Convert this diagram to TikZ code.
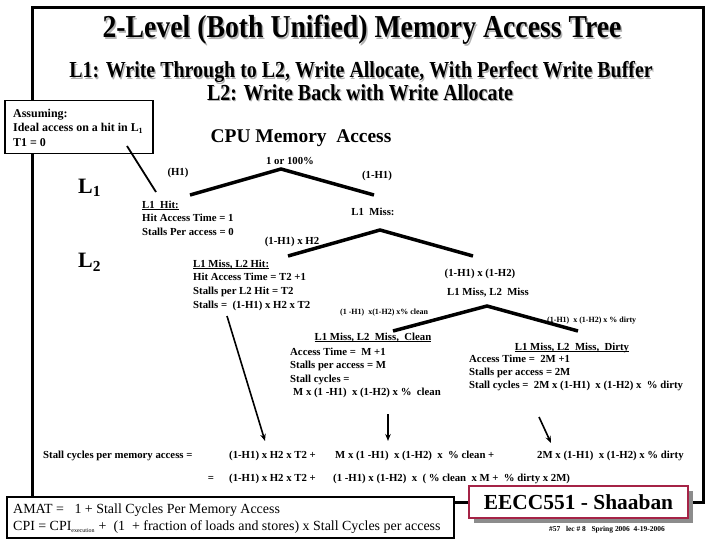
\documentclass[tikz,border=0pt]{standalone}
\usepackage{fontspec}
\setmainfont{Liberation Serif}
\newfontfamily\condfont{Liberation Serif}[FakeStretch=0.87]
\usetikzlibrary{arrows.meta}
\definecolor{eeccred}{RGB}{165,35,70}
\definecolor{shadowgray}{RGB}{140,140,140}
\newcommand\myul[1]{\setbox0\hbox{#1}\rlap{\rule[-1.6pt]{\wd0}{0.9pt}}\box0}
\begin{document}
\begin{tikzpicture}[x=1bp,y=-1bp,
  body/.style={font=\fontsize{10.8}{12}\selectfont\bfseries, inner sep=0pt},
  bigbody/.style={font=\fontsize{12}{13}\selectfont\bfseries, inner sep=0pt},
  tinytxt/.style={font=\fontsize{8}{9}\selectfont\bfseries, inner sep=0pt},
  titletxt/.style={font=\condfont\fontsize{32}{34}\selectfont\bfseries, inner sep=0pt, anchor=base},
  subtxt/.style={font=\condfont\fontsize{23}{25}\selectfont\bfseries, inner sep=0pt, anchor=base},
  leveltxt/.style={font=\fontsize{22}{24}\selectfont\bfseries, inner sep=0pt, anchor=base west},
  amattxt/.style={font=\fontsize{14}{16}\selectfont, inner sep=0pt, anchor=base west},
  branch/.style={line width=3.5bp},
  pointer/.style={line width=1.6bp, -{Stealth[length=7bp,width=5.5bp]}},
  frameline/.style={line width=3bp},
  boxline/.style={line width=1.5bp}]
\useasboundingbox (0,0) rectangle (720,540);
\fill[white] (0,0) rectangle (720,540);

% outer frame
\draw[frameline] (32,8) rectangle (703,502);

% titles
\node[titletxt, text=black!30] (titleshadow) at (363.5,39.5) {2-Level (Both Unified) Memory Access Tree};
\node[titletxt] (title) at (362,38) {2-Level (Both Unified) Memory Access Tree};
\node[subtxt, text=black!30] (sub1shadow) at (362.2,79.2) {L1: Write Through to L2, Write Allocate, With Perfect Write Buffer};
\node[subtxt] (sub1) at (361,78) {L1: Write Through to L2, Write Allocate, With Perfect Write Buffer};
\node[subtxt, text=black!30] (sub2shadow) at (361.2,101.7) {L2: Write Back with Write Allocate};
\node[subtxt] (sub2) at (360,100.5) {L2: Write Back with Write Allocate};

% assumption box
\node[draw, boxline, fill=white, anchor=north west, minimum width=148bp, minimum height=53bp, inner sep=0pt] (assumebox) at (4,100) {};
\node[bigbody, anchor=base west] (assume1) at (13,118) {Assuming:};
\node[bigbody, anchor=base west] (assume2) at (13,132) {Ideal access on a hit in L\textsubscript{1}};
\node[bigbody, anchor=base west] (assume3) at (13,146.5) {T1 = 0};
\coordinate (asmA) at (127,146);
\coordinate (asmB) at (156,192);
\draw[line width=1.8bp] (asmA) -- (asmB);

\node[font=\fontsize{19.5}{21}\selectfont\bfseries, inner sep=0pt, anchor=base] (cpu) at (301,143) {CPU Memory\ \ Access};

% level labels
\node[leveltxt] (lvl1) at (78,193.5) {L\textsubscript{1}};
\node[leveltxt] (lvl2) at (78,268) {L\textsubscript{2}};

% tree level 1
\coordinate (t1a) at (281,169);
\coordinate (t1l) at (190,195);
\coordinate (t1r) at (374,195);
\draw[branch] (t1l) -- (t1a) -- (t1r);
\node[body, anchor=base] (p100) at (290,164.5) {1 or 100\%};
\node[body, anchor=base] (ph1) at (178,175.5) {(H1)};
\node[body, anchor=base] (pmiss1) at (377,178.5) {(1-H1)};

\node[body, anchor=base west] (hit1) at (142,208.5) {\myul{L1\ \ Hit:}};
\node[body, anchor=base west] (hit2) at (142,222) {Hit Access Time = 1};
\node[body, anchor=base west] (hit3) at (142,235.5) {Stalls Per access = 0};
\node[body, anchor=base] (miss1) at (373,215.5) {L1\ \ Miss:};

% tree level 2
\coordinate (t2a) at (380,230);
\coordinate (t2l) at (288,256);
\coordinate (t2r) at (473,256);
\draw[branch] (t2l) -- (t2a) -- (t2r);
\node[body, anchor=base] (ph2) at (292,244.5) {(1-H1) x H2};

\node[body, anchor=base west] (l2hit1) at (193,267.5) {\myul{L1 Miss, L2 Hit:}};
\node[body, anchor=base west] (l2hit2) at (193,281) {Hit Access Time = T2 +1};
\node[body, anchor=base west] (l2hit3) at (193,294.5) {Stalls per L2 Hit = T2};
\node[body, anchor=base west] (l2hit4) at (193,308) {Stalls =\ \ (1-H1) x H2 x T2};

\node[body, anchor=base] (pmiss2) at (480,276.5) {(1-H1) x (1-H2)};
\node[body, anchor=base] (miss2) at (488,295.5) {L1 Miss, L2\ \ Miss};

% tree level 3
\coordinate (t3a) at (487,306);
\coordinate (t3l) at (393,331);
\coordinate (t3r) at (578,331);
\draw[branch] (t3l) -- (t3a) -- (t3r);
\node[tinytxt, anchor=base west] (pclean) at (340,314.5) {(1 -H1)\ \ x(1-H2) x\% clean};
\node[tinytxt, anchor=base west] (pdirty) at (547,322.5) {(1-H1)\ \ x (1-H2) x \% dirty};

% clean block
\node[body, anchor=base] (cl1) at (373,340.5) {\myul{L1 Miss, L2\ \ Miss, \ Clean}};
\node[body, anchor=base west] (cl2) at (290,355.5) {Access Time =\ \ M +1};
\node[body, anchor=base west] (cl3) at (290,368.5) {Stalls per access = M};
\node[body, anchor=base west] (cl4) at (290,382.5) {Stall cycles =};
\node[body, anchor=base west] (cl5) at (293,395.5) {M x (1 -H1)\ \ x (1-H2) x \%\ \ clean};

% dirty block
\node[body, anchor=base] (dt1) at (572,350) {\myul{L1 Miss, L2\ \ Miss, \ Dirty}};
\node[body, anchor=base west] (dt2) at (469,362) {Access Time =\ \ 2M +1};
\node[body, anchor=base west] (dt3) at (469,375) {Stalls per access = 2M};
\node[body, anchor=base west] (dt4) at (469,388) {Stall cycles =\ \ 2M x (1-H1)\ \ x (1-H2) x\ \ \% dirty};

% arrows
\coordinate (a1s) at (227,316);
\coordinate (a1e) at (265,441);
\coordinate (a2s) at (388,414);
\coordinate (a2e) at (388,441);
\coordinate (a3s) at (539,417);
\coordinate (a3e) at (551,443);
\draw[pointer] (a1s) -- (a1e);
\draw[pointer] (a2s) -- (a2e);
\draw[pointer] (a3s) -- (a3e);

% summary rows
\node[body, anchor=base west] (r1a) at (43,458.5) {Stall cycles per memory access =};
\node[body, anchor=base west] (r1b) at (229,458.5) {(1-H1) x H2 x T2 +};
\node[body, anchor=base west] (r1c) at (335,458.5) {M x (1 -H1)\ \ x (1-H2)\ \ x\ \ \% clean +};
\node[body, anchor=base west] (r1d) at (537,458.5) {2M x (1-H1)\ \ x (1-H2) x \% dirty};
\node[body, anchor=base] (r2a) at (211,481.5) {=};
\node[body, anchor=base west] (r2b) at (229,481.5) {(1-H1) x H2 x T2 +};
\node[body, anchor=base west] (r2c) at (333,481.5) {(1 -H1) x (1-H2)\ \ x\ \ ( \% clean\ \ x M +\ \ \% dirty x 2M)};

% AMAT box
\node[draw, boxline, fill=white, anchor=north west, minimum width=447bp, minimum height=41bp, inner sep=0pt] (amatbox) at (6,496) {};
\node[amattxt] (amat) at (13,513) {AMAT =\ \ \ 1 + Stall Cycles Per Memory Access};
\node[amattxt] (cpi) at (13,530) {CPI = CPI\textsubscript{\fontsize{6}{7}\selectfont execution} +\ \ (1\ \ + fraction of loads and stores) x Stall Cycles per access};

% EECC box
\fill[shadowgray] (474,491) rectangle (693,523);
\node[draw=eeccred, line width=2bp, fill=white, anchor=north west, minimum width=219bp, minimum height=32bp, inner sep=0pt, font=\fontsize{21.5}{23}\selectfont\bfseries] (eecc) at (468,485) {EECC551 - Shaaban};
\node[font=\fontsize{7.5}{8}\selectfont\bfseries, inner sep=0pt, anchor=base] (footer) at (607,531) {\#57\ \ \ lec \# 8\ \ \ Spring 2006\ \ 4-19-2006};
\end{tikzpicture}
\end{document}
